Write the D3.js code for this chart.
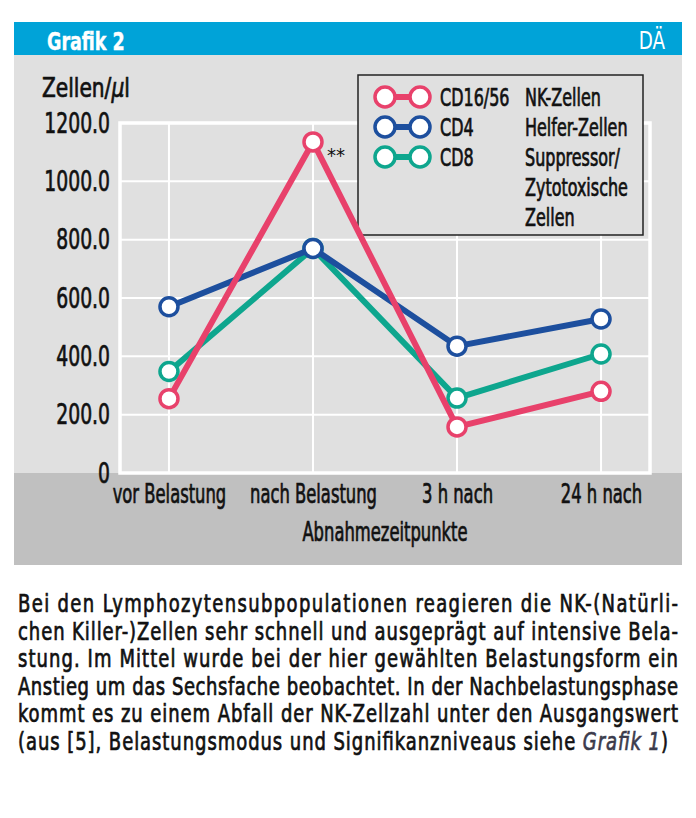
<!DOCTYPE html>
<html>
<head>
<meta charset="utf-8">
<script src="https://cdn.jsdelivr.net/npm/d3@7"></script>
<style>
  body { margin: 0; background: #fff; }
  svg text { font-family: "DejaVu Sans Condensed", "DejaVu Sans", sans-serif; }
</style>
</head>
<body>
<div id="chart"></div>
<script>
// data
const categories = ["vor Belastung", "nach Belastung", "3 h nach", "24 h nach"];
const cd1656 = [255, 1135, 158, 280];
const cd4 = [570, 770, 435, 528];
const cd8 = [348, 770, 257, 408];
const yTicks = [0, 200, 400, 600, 800, 1000, 1200];

const seriesNames = ["CD16/56", "CD4", "CD8"];
const seriesDesc = ["NK-Zellen", "Helfer-Zellen", "Suppressor/", "Zytotoxische", "Zellen"];

const captionLines = [
  "Bei den Lymphozytensubpopulationen reagieren die NK-(Natürli-",
  "chen Killer-)Zellen sehr schnell und ausgeprägt auf intensive Bela-",
  "stung. Im Mittel wurde bei der hier gewählten Belastungsform ein",
  "Anstieg um das Sechsfache beobachtet. In der Nachbelastungsphase",
  "kommt es zu einem Abfall der NK-Zellzahl unter den Ausgangswert"
];

const width = 696, height = 818;
const margin = {top: 123, right: 46, bottom: 345, left: 120};
const colors = {red: "#e8416b", blue: "#1d4f9e", teal: "#0ea68e"};
const ink = "#111";
const weight = 0.7; // extra stroke so the condensed face looks as heavy as the print

const svg = d3.select("#chart").append("svg")
  .attr("width", width)
  .attr("height", height);

// condensed text helper (the original face is a narrow grotesque)
const txt = (parent, x, y, size, k) => parent.append("text")
  .attr("transform", `translate(${x},${y}) scale(${k},1)`)
  .attr("font-size", size)
  .attr("fill", ink).attr("stroke", ink).attr("stroke-width", weight);

svg.append("rect").attr("width", width).attr("height", height).attr("fill", "#fff");

// panel background
svg.append("rect").attr("x", 14).attr("y", 22).attr("width", 668).attr("height", 33).attr("fill", "#00a3d8");
svg.append("rect").attr("x", 14).attr("y", 55).attr("width", 668).attr("height", 418).attr("fill", "#e0e0e0");
svg.append("rect").attr("x", 14).attr("y", 473).attr("width", 668).attr("height", 92).attr("fill", "#c0c0c0");

txt(svg, 47, 50, 25, 0.78).attr("fill", "#fff").attr("stroke", "#fff").attr("stroke-width", 0.4)
  .attr("font-weight", "bold")
  .text("Grafik 2");
txt(svg, 665, 49, 24, 0.85).attr("text-anchor", "end").attr("fill", "#fff").attr("stroke", "none")
  .attr("font-weight", 200)
  .text("DÄ");

const x = d3.scalePoint()
  .domain(categories)
  .range([margin.left, width - margin.right])
  .padding(0.34);

const y = d3.scaleLinear()
  .domain([0, 1200])
  .range([height - margin.bottom, margin.top]);

// grid
const grid = svg.append("g").attr("stroke", "#fff");
grid.selectAll(".h").data(yTicks.slice(1, -1)).join("line")
  .attr("x1", margin.left).attr("x2", width - margin.right)
  .attr("y1", d => y(d)).attr("y2", d => y(d))
  .attr("stroke-width", 2);
grid.selectAll(".v").data(categories).join("line")
  .attr("x1", d => x(d)).attr("x2", d => x(d))
  .attr("y1", y(1200)).attr("y2", y(0))
  .attr("stroke-width", 2);
svg.append("rect")
  .attr("x", margin.left).attr("y", y(1200))
  .attr("width", width - margin.right - margin.left)
  .attr("height", y(0) - y(1200))
  .attr("fill", "none").attr("stroke", "#fff").attr("stroke-width", 3.5);

// y axis
const yAxis = g => g
  .attr("transform", `translate(${margin.left - 10},0)`)
  .call(d3.axisLeft(y).tickValues(yTicks).tickSize(0).tickPadding(0)
    .tickFormat(d => d === 0 ? "0" : d3.format(".1f")(d)))
  .call(g => g.select(".domain").remove())
  .call(g => g.selectAll("text")
    .attr("font-family", null)
    .attr("font-size", 29)
    .attr("transform", "scale(0.72,1)")
    .attr("fill", ink)
    .attr("stroke", ink).attr("stroke-width", weight));
svg.append("g").call(yAxis).attr("font-family", null);

txt(svg, 42, 97, 27, 0.83)
  .call(t => {
    t.append("tspan").text("Zellen/");
    t.append("tspan").attr("font-style", "italic").text("μ");
    t.append("tspan").text("l");
  });

// x axis
const xAxis = g => g
  .attr("transform", `translate(0,${y(0)})`)
  .call(d3.axisBottom(x).tickSize(0).tickPadding(12))
  .call(g => g.select(".domain").remove())
  .call(g => g.selectAll("text")
    .attr("font-size", 26)
    .attr("transform", "scale(0.7,1)")
    .attr("fill", ink)
    .attr("stroke", ink).attr("stroke-width", weight));
svg.append("g").call(xAxis).attr("font-family", null);

txt(svg, (margin.left + width - margin.right) / 2, 541, 26, 0.7)
  .attr("text-anchor", "middle")
  .text("Abnahmezeitpunkte");

// legend
const lg = svg.append("g");
lg.append("rect").attr("x", 358).attr("y", 75).attr("width", 285).attr("height", 160)
  .attr("fill", "#e0e0e0").attr("stroke", "#222").attr("stroke-width", 1.5);

const seriesList = [
  {name: seriesNames[0], values: cd1656, color: colors.red},
  {name: seriesNames[1], values: cd4, color: colors.blue},
  {name: seriesNames[2], values: cd8, color: colors.teal}
];

seriesList.forEach((s, i) => {
  const ry = 97 + i * 30;
  lg.append("line").attr("x1", 385).attr("x2", 420).attr("y1", ry).attr("y2", ry)
    .attr("stroke", s.color).attr("stroke-width", 6);
  lg.selectAll(null).data([385, 420]).join("circle")
    .attr("cx", d => d).attr("cy", ry).attr("r", 10)
    .attr("fill", "#fff").attr("stroke", s.color).attr("stroke-width", 3.5);
  txt(lg, 440, ry + 9, 24, 0.74).text(s.name);
});
seriesDesc.forEach((d, i) => {
  txt(lg, 525, 106 + i * 30, 24, 0.74).text(d);
});

// series: teal under blue under red
const line = d3.line().x((d, i) => x(categories[i])).y(d => y(d));
[seriesList[2], seriesList[1], seriesList[0]].forEach(s => {
  const g = svg.append("g");
  g.append("path").datum(s.values)
    .attr("d", line).attr("fill", "none")
    .attr("stroke", s.color).attr("stroke-width", 6).attr("stroke-linejoin", "round");
  g.selectAll("circle").data(s.values).join("circle")
    .attr("cx", (d, i) => x(categories[i])).attr("cy", d => y(d)).attr("r", 9)
    .attr("fill", "#fff").attr("stroke", s.color).attr("stroke-width", 3.5);
});

svg.append("text").attr("x", x(categories[1]) + 14).attr("y", y(cd1656[1]) + 20)
  .attr("font-size", 20).attr("fill", ink)
  .text("**");

// caption, justified lines
const capK = 0.8;
captionLines.forEach((l, i) => {
  txt(svg, 18, 612 + i * 27.6, 25, capK)
    .attr("textLength", 660 / capK).attr("lengthAdjust", "spacing")
    .text(l);
});
const last = txt(svg, 18, 612 + 5 * 27.6, 25, capK)
  .attr("textLength", 650 / capK).attr("lengthAdjust", "spacing");
last.append("tspan").text("(aus [5], Belastungsmodus und Signifikanzniveaus siehe ");
last.append("tspan").attr("font-style", "italic").attr("fill", "#3b3b4c").attr("stroke", "#3b3b4c").text("Grafik 1");
last.append("tspan").text(")");
</script>
</body>
</html>
